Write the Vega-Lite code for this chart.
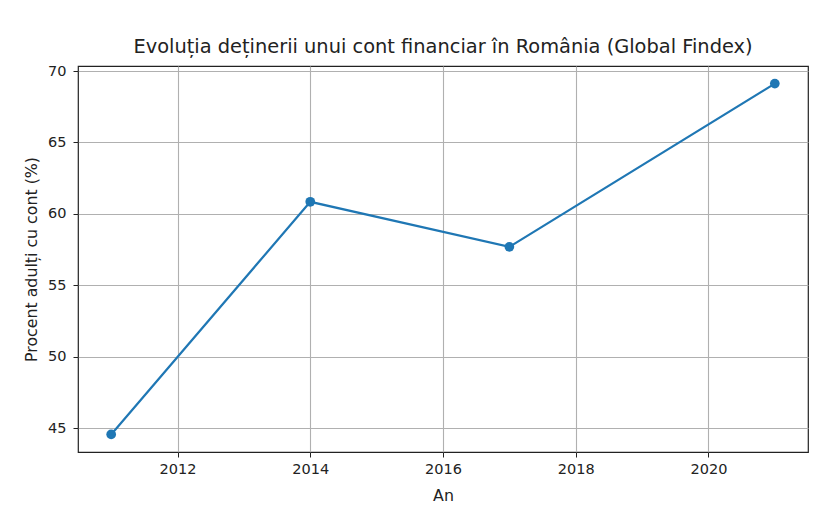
{
  "$schema": "https://vega.github.io/schema/vega-lite/v6.json",
  "width": 730,
  "height": 386,
  "autosize": "none",
  "padding": {"left": 78, "top": 66, "right": 15, "bottom": 72},
  "background": "white",
  "title": {
    "text": "Evoluția deținerii unui cont financiar în România (Global Findex)",
    "font": "DejaVu Sans",
    "fontSize": 19.4,
    "fontWeight": "normal",
    "color": "#222222",
    "offset": 6,
    "anchor": "middle"
  },
  "config": {
    "view": {"stroke": "#222222", "strokeWidth": 1.2},
    "axis": {
      "labelFont": "DejaVu Sans",
      "titleFont": "DejaVu Sans",
      "labelFontSize": 14.5,
      "titleFontSize": 15.8,
      "titleFontWeight": "normal",
      "labelColor": "#222222",
      "titleColor": "#222222",
      "gridColor": "#b0b0b0",
      "gridWidth": 1.1,
      "tickColor": "#222222",
      "tickSize": 5,
      "domain": false
    }
  },
  "data": {
    "values": [
      {"an": 2011, "procent": 44.58},
      {"an": 2014, "procent": 60.85},
      {"an": 2017, "procent": 57.7},
      {"an": 2021, "procent": 69.12}
    ]
  },
  "mark": {"type": "line", "color": "#1f77b4", "strokeWidth": 2.2, "point": {"size": 95, "filled": true, "color": "#1f77b4", "opacity": 1}},
  "encoding": {
    "x": {
      "field": "an",
      "type": "quantitative",
      "title": "An",
      "scale": {"domain": [2010.5, 2021.5], "nice": false, "zero": false},
      "axis": {"values": [2012, 2014, 2016, 2018, 2020], "format": "d", "labelPadding": 5, "titlePadding": 13}
    },
    "y": {
      "field": "procent",
      "type": "quantitative",
      "title": "Procent adulți cu cont (%)",
      "scale": {"domain": [43.35, 70.35], "nice": false, "zero": false},
      "axis": {"values": [45, 50, 55, 60, 65, 70], "labelPadding": 7, "titlePadding": 8}
    }
  }
}
